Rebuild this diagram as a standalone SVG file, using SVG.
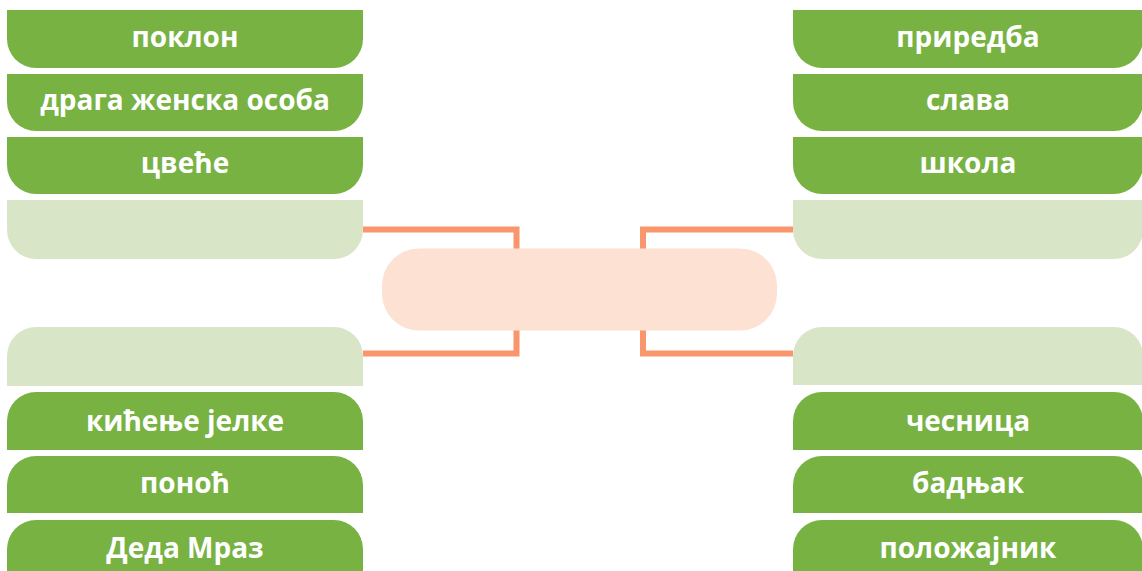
<svg xmlns="http://www.w3.org/2000/svg" width="1142" height="571" viewBox="0 0 1142 571">
<style>
.g{fill:#77b243}
.l{fill:#d9e5c7}
.t{font-family:"Open Sans","Noto Sans",sans-serif;font-weight:700;font-size:28px;fill:#ffffff;text-anchor:middle}
.c{fill:none;stroke:#f9966b;stroke-width:6}
</style>
<rect width="1142" height="571" fill="#ffffff"/>
<g id="connectors">
<polyline class="c" points="363,229.5 516.5,229.5 516.5,353.5 363,353.5"/>
<polyline class="c" points="793,229.5 643,229.5 643,353.5 793,353.5"/>
</g>
<g id="center"><rect x="382" y="248.5" width="395" height="82" rx="37" ry="37" fill="#fde1d3"/></g>
<g id="l1"><path class="g" d="M7,10H363V39A29,29 0 0 1 334,68H36A29,29 0 0 1 7,39Z"/><text class="t" x="185" y="47">поклон</text></g>
<g id="l2"><path class="g" d="M7,74H363V102A29,29 0 0 1 334,131H36A29,29 0 0 1 7,102Z"/><text class="t" x="185" y="110">драга женска особа</text></g>
<g id="l3"><path class="g" d="M7,137H363V165A29,29 0 0 1 334,194H36A29,29 0 0 1 7,165Z"/><text class="t" x="185" y="173">цвеће</text></g>
<g id="l4"><path class="l" d="M7,200H363V230A29,29 0 0 1 334,259H36A29,29 0 0 1 7,230Z"/></g>
<g id="l5"><path class="l" d="M7,386H363V356A29,29 0 0 0 334,327H36A29,29 0 0 0 7,356Z"/></g>
<g id="l6"><path class="g" d="M7,450H363V421A29,29 0 0 0 334,392H36A29,29 0 0 0 7,421Z"/><text class="t" x="185" y="431">кићење јелке</text></g>
<g id="l7"><path class="g" d="M7,513H363V485A29,29 0 0 0 334,456H36A29,29 0 0 0 7,485Z"/><text class="t" x="185" y="493">поноћ</text></g>
<g id="l8"><path class="g" d="M7,578H363V549A29,29 0 0 0 334,520H36A29,29 0 0 0 7,549Z"/><text class="t" x="185" y="558">Деда Мраз</text></g>
<g id="r1"><path class="g" d="M793,10H1143V39A29,29 0 0 1 1114,68H822A29,29 0 0 1 793,39Z"/><text class="t" x="968" y="47">приредба</text></g>
<g id="r2"><path class="g" d="M793,74H1143V102A29,29 0 0 1 1114,131H822A29,29 0 0 1 793,102Z"/><text class="t" x="968" y="110">слава</text></g>
<g id="r3"><path class="g" d="M793,137H1143V165A29,29 0 0 1 1114,194H822A29,29 0 0 1 793,165Z"/><text class="t" x="968" y="173">школа</text></g>
<g id="r4"><path class="l" d="M793,200H1143V230A29,29 0 0 1 1114,259H822A29,29 0 0 1 793,230Z"/></g>
<g id="r5"><path class="l" d="M793,385H1143V356A29,29 0 0 0 1114,327H822A29,29 0 0 0 793,356Z"/></g>
<g id="r6"><path class="g" d="M793,450H1143V421A29,29 0 0 0 1114,392H822A29,29 0 0 0 793,421Z"/><text class="t" x="968" y="431">чесница</text></g>
<g id="r7"><path class="g" d="M793,513H1143V485A29,29 0 0 0 1114,456H822A29,29 0 0 0 793,485Z"/><text class="t" x="968" y="493">бадњак</text></g>
<g id="r8"><path class="g" d="M793,578H1143V549A29,29 0 0 0 1114,520H822A29,29 0 0 0 793,549Z"/><text class="t" x="968" y="558">положајник</text></g>
</svg>
